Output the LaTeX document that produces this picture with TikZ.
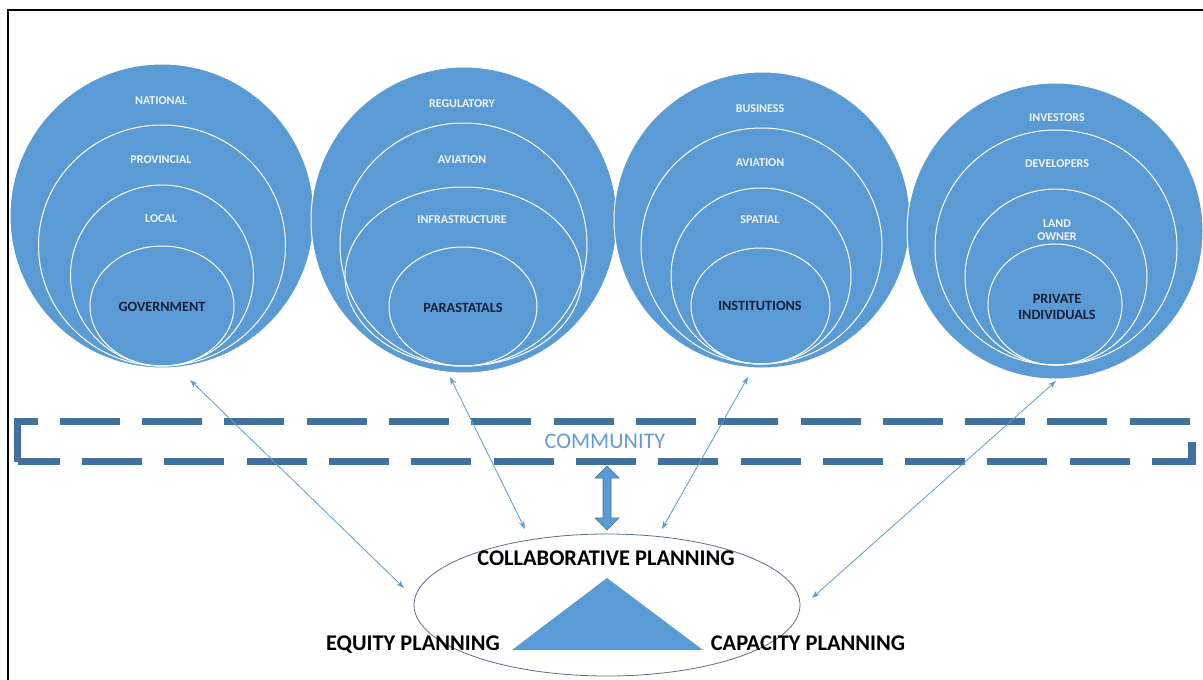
\documentclass[tikz,border=0pt]{standalone}
\usepackage{fontspec}
\setmainfont{Carlito}
\usetikzlibrary{arrows.meta}
\definecolor{vblue}{RGB}{91,155,213}
\definecolor{dblue}{RGB}{65,113,156}
\definecolor{navy}{RGB}{22,32,58}
\definecolor{lbl}{RGB}{240,245,252}
\definecolor{comm}{RGB}{100,155,210}
\definecolor{ellc}{RGB}{95,110,135}
\begin{document}
\begin{tikzpicture}[x=1pt,y=-1pt,
  outer/.style={fill=vblue,draw=white,line width=1pt},
  ring/.style={draw=white,line width=1pt},
  lvl/.style={text=lbl,font=\bfseries\fontsize{12}{13.5}\selectfont,align=center,inner sep=0pt},
  core/.style={text=navy,font=\bfseries\fontsize{14.2}{15.5}\selectfont,align=center,inner sep=0pt},
  link/.style={draw=vblue,line width=0.8pt,{Stealth[length=8pt,width=5.5pt]}-{Stealth[length=8pt,width=5.5pt]}},
  big/.style={text=black,font=\bfseries\fontsize{22.4}{24}\selectfont,inner sep=0pt},
  frame/.style={draw=dblue,line width=7.5pt,line join=miter,dash pattern=on 60pt off 22.3pt}
]
\useasboundingbox (0,0) rectangle (1203,680);
\fill[white] (0,0) rectangle (1203,680);
% outer frame
\draw[line width=2pt] (8,680) -- (8,10) -- (1203,10);

% --- Government
\draw[outer] (162,216) circle [radius=152pt];
\draw[ring] (162,245.5) ellipse [x radius=123.5pt, y radius=120.5pt];
\draw[ring] (162,275.5) ellipse [x radius=91.5pt, y radius=90.5pt];
\draw[ring] (162,306) ellipse [x radius=72pt, y radius=60pt];
\node[lvl] (nat) at (161,101) {NATIONAL};
\node[lvl] (prov) at (161,160) {PROVINCIAL};
\node[lvl] (loc) at (161,219) {LOCAL};
\node[core] (gov) at (162,307) {GOVERNMENT};

% --- Parastatals
\draw[outer] (464,220) circle [radius=153pt];
\draw[ring] (463.5,244.5) ellipse [x radius=123.5pt, y radius=121.5pt];
\draw[ring] (463.5,276.5) ellipse [x radius=118.5pt, y radius=89.5pt];
\draw[ring] (463,306.5) ellipse [x radius=74pt, y radius=59.5pt];
\node[lvl] (reg) at (462,104) {REGULATORY};
\node[lvl] (av1) at (462,160) {AVIATION};
\node[lvl] (inf) at (462,220) {INFRASTRUCTURE};
\node[core] (par) at (463,308) {PARASTATALS};

% --- Institutions
\draw[outer] (762,220) circle [radius=148pt];
\draw[ring] (761.5,246) ellipse [x radius=120.5pt, y radius=118pt];
\draw[ring] (761,276) ellipse [x radius=90pt, y radius=88pt];
\draw[ring] (760.5,306) ellipse [x radius=69.5pt, y radius=58pt];
\node[lvl] (bus) at (760,109) {BUSINESS};
\node[lvl] (av2) at (760,163) {AVIATION};
\node[lvl] (spa) at (760,220) {SPATIAL};
\node[core] (ins) at (760,306) {INSTITUTIONS};

% --- Private
\draw[outer] (1055,231) circle [radius=148pt];
\draw[ring] (1056,247.5) ellipse [x radius=121pt, y radius=117.5pt];
\draw[ring] (1056,277) ellipse [x radius=91pt, y radius=88pt];
\draw[ring] (1055,304.5) ellipse [x radius=67pt, y radius=60.5pt];
\node[lvl] (inv) at (1057,118) {INVESTORS};
\node[lvl] (dev) at (1057,164) {DEVELOPERS};
\node[lvl] (lan) at (1057,230) {LAND\\OWNER};
\node[core] (pri) at (1057,307) {PRIVATE\\INDIVIDUALS};

% --- community dashed box
\draw[frame] (17.5,461.5) -- (17.5,421.5) -- (1192,421.5) -- (1192,461.5) -- cycle;
\node[text=comm,font=\fontsize{22.3}{24}\selectfont,inner sep=0pt] (com) at (605,441) {COMMUNITY};

% --- planning ellipse
\draw[ellc,line width=0.8pt] (607,605) ellipse [x radius=193pt, y radius=71pt];
\fill[vblue] (607,578) -- (703,650) -- (512,650) -- cycle;
\node[big] (col) at (606,558) {COLLABORATIVE PLANNING};
\node[big] (equ) at (413,645) {EQUITY PLANNING};
\node[big] (cap) at (808,643) {CAPACITY PLANNING};

% --- block double arrow
\filldraw[fill=vblue,draw=dblue,line width=0.6pt]
  (607,466) -- (619,478) -- (611,478) -- (611,518) -- (619,518) -- (607,530)
  -- (595,518) -- (603,518) -- (603,478) -- (595,478) -- cycle;

% --- connectors
\coordinate (g1) at (190,380);
\coordinate (g2) at (404,588);
\coordinate (p1) at (450,377);
\coordinate (p2) at (525,529);
\coordinate (i1) at (748,377);
\coordinate (i2) at (662,529);
\coordinate (r1) at (1056,381);
\coordinate (r2) at (812,598);
\draw[link] (g1) -- (g2);
\draw[link] (p1) -- (p2);
\draw[link] (i1) -- (i2);
\draw[link] (r1) -- (r2);
\end{tikzpicture}
\end{document}
